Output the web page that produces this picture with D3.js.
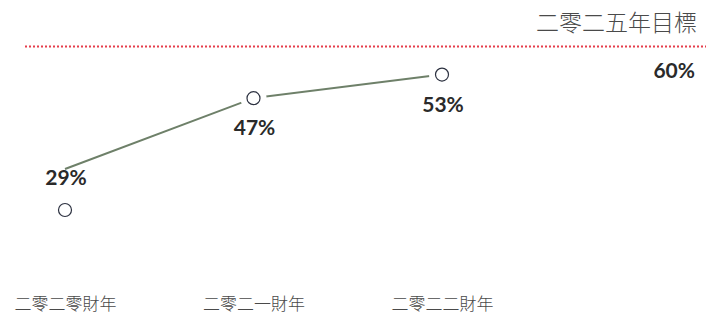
<!DOCTYPE html>
<html>
<head>
<meta charset="utf-8">
<script src="https://cdn.jsdelivr.net/npm/d3@7"></script>
<style>
  html, body { margin: 0; padding: 0; background: #fff; }
  svg { display: block; }
</style>
</head>
<body>
<div id="chart"></div>
<script>
// data
const categories = ['二零二零財年', '二零二一財年', '二零二二財年'];
const shares = [29, 47, 53];
const targetValue = 60;
const targetTitle = '二零二五年目標';

const width = 728;
const height = 318;

const svg = d3.select('#chart').append('svg')
    .attr('width', width)
    .attr('height', height);

const x = d3.scalePoint()
    .domain(categories)
    .range([65, 442]);

const y = d3.scaleLinear()
    .domain([29, 60])
    .range([169, 47]);

const cjk = '"Noto Sans CJK TC", "Noto Sans CJK SC", sans-serif';
const labelFont = 'Lato, "Open Sans", sans-serif';

// target line
svg.append('line')
    .attr('x1', 25)
    .attr('x2', 706)
    .attr('y1', Math.round(y(targetValue)) - 0.5)
    .attr('y2', Math.round(y(targetValue)) - 0.5)
    .attr('stroke', '#e63e4c')
    .attr('stroke-width', 2)
    .attr('stroke-dasharray', '2,2');

svg.append('text')
    .attr('x', 697)
    .attr('y', y(targetValue) - 16)
    .attr('text-anchor', 'end')
    .style('font-family', cjk)
    .style('font-weight', 300)
    .style('font-size', '23px')
    .style('fill', '#4a4a4a')
    .text(targetTitle);

svg.append('text')
    .attr('x', 695)
    .attr('y', y(targetValue) + 31)
    .attr('text-anchor', 'end')
    .style('font-family', labelFont)
    .style('font-weight', 700)
    .style('font-size', '21px')
    .style('fill', '#2a2a2a')
    .text(targetValue + '%');

const points = categories.map((c, i) => ({ cat: c, value: shares[i], i }));

// first marker sits below its label in the reference, others above
const markerY = d => d.i === 0 ? y(d.value) + 41 : y(d.value);
const labelY = d => d.i === 0 ? y(d.value) + 16 : markerY(d) + 37;

const line = d3.line()
    .x(d => x(d.cat))
    .y(d => y(d.value));

svg.append('path')
    .datum(points)
    .attr('d', line)
    .attr('fill', 'none')
    .attr('stroke', '#6e8069')
    .attr('stroke-width', 2);

// white halo leaves a gap in the line around each marker
svg.selectAll('.halo')
    .data(points)
    .enter().append('circle')
        .attr('class', 'halo')
        .attr('cx', d => x(d.cat))
        .attr('cy', markerY)
        .attr('r', 13)
        .attr('fill', '#fff');

svg.selectAll('.marker')
    .data(points)
    .enter().append('circle')
        .attr('class', 'marker')
        .attr('cx', d => x(d.cat))
        .attr('cy', markerY)
        .attr('r', 6.5)
        .attr('fill', '#fff')
        .attr('stroke', '#2c3140')
        .attr('stroke-width', 1.2);

svg.selectAll('.value-label')
    .data(points)
    .enter().append('text')
        .attr('class', 'value-label')
        .attr('x', d => x(d.cat) + 1)
        .attr('y', labelY)
        .attr('text-anchor', 'middle')
        .style('font-family', labelFont)
        .style('font-weight', 700)
        .style('font-size', '21px')
        .style('fill', '#2a2a2a')
        .text(d => d.value + '%');

// category axis, labels only
const axis = svg.append('g')
    .attr('transform', 'translate(0, 292)')
    .call(d3.axisBottom(x).tickSize(0).tickPadding(0));

axis.select('.domain').remove();
axis.selectAll('text')
    .attr('dy', '0')
    .attr('y', 18)
    .style('font-family', cjk)
    .style('font-weight', 300)
    .style('font-size', '17px')
    .style('fill', '#4a4a4a');
</script>
</body>
</html>
